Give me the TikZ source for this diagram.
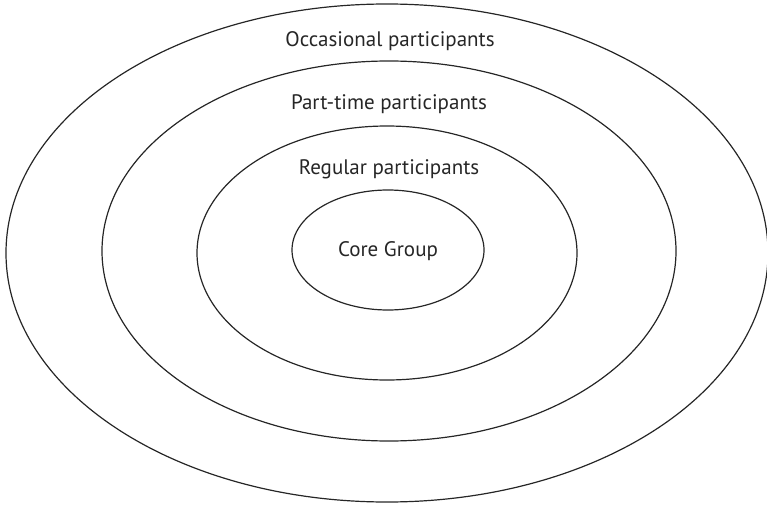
\documentclass[tikz,border=0pt]{standalone}
\usepackage{fontspec}
\setmainfont{PT Sans}
\begin{document}
\begin{tikzpicture}[x=1pt,y=-1pt,
  ring/.style={draw=black!85,line width=1.2pt},
  lbl/.style={font=\fontsize{21}{24}\selectfont,text=black!85,inner sep=0pt,anchor=base}]
\useasboundingbox (0,0) rectangle (767,505);
\draw[ring] (387,253) ellipse [x radius=381, y radius=249];
\draw[ring] (389,251) ellipse [x radius=287, y radius=190];
\draw[ring] (387,253) ellipse [x radius=190, y radius=127];
\draw[ring] (388,250) ellipse [x radius=96, y radius=60];
\node[lbl] (occ) at (390,47) {Occasional participants};
\node[lbl] (part) at (389,110) {Part-time participants};
\node[lbl] (reg) at (389,175) {Regular participants};
\node[lbl] (core) at (388,256) {Core Group};
\end{tikzpicture}
\end{document}
